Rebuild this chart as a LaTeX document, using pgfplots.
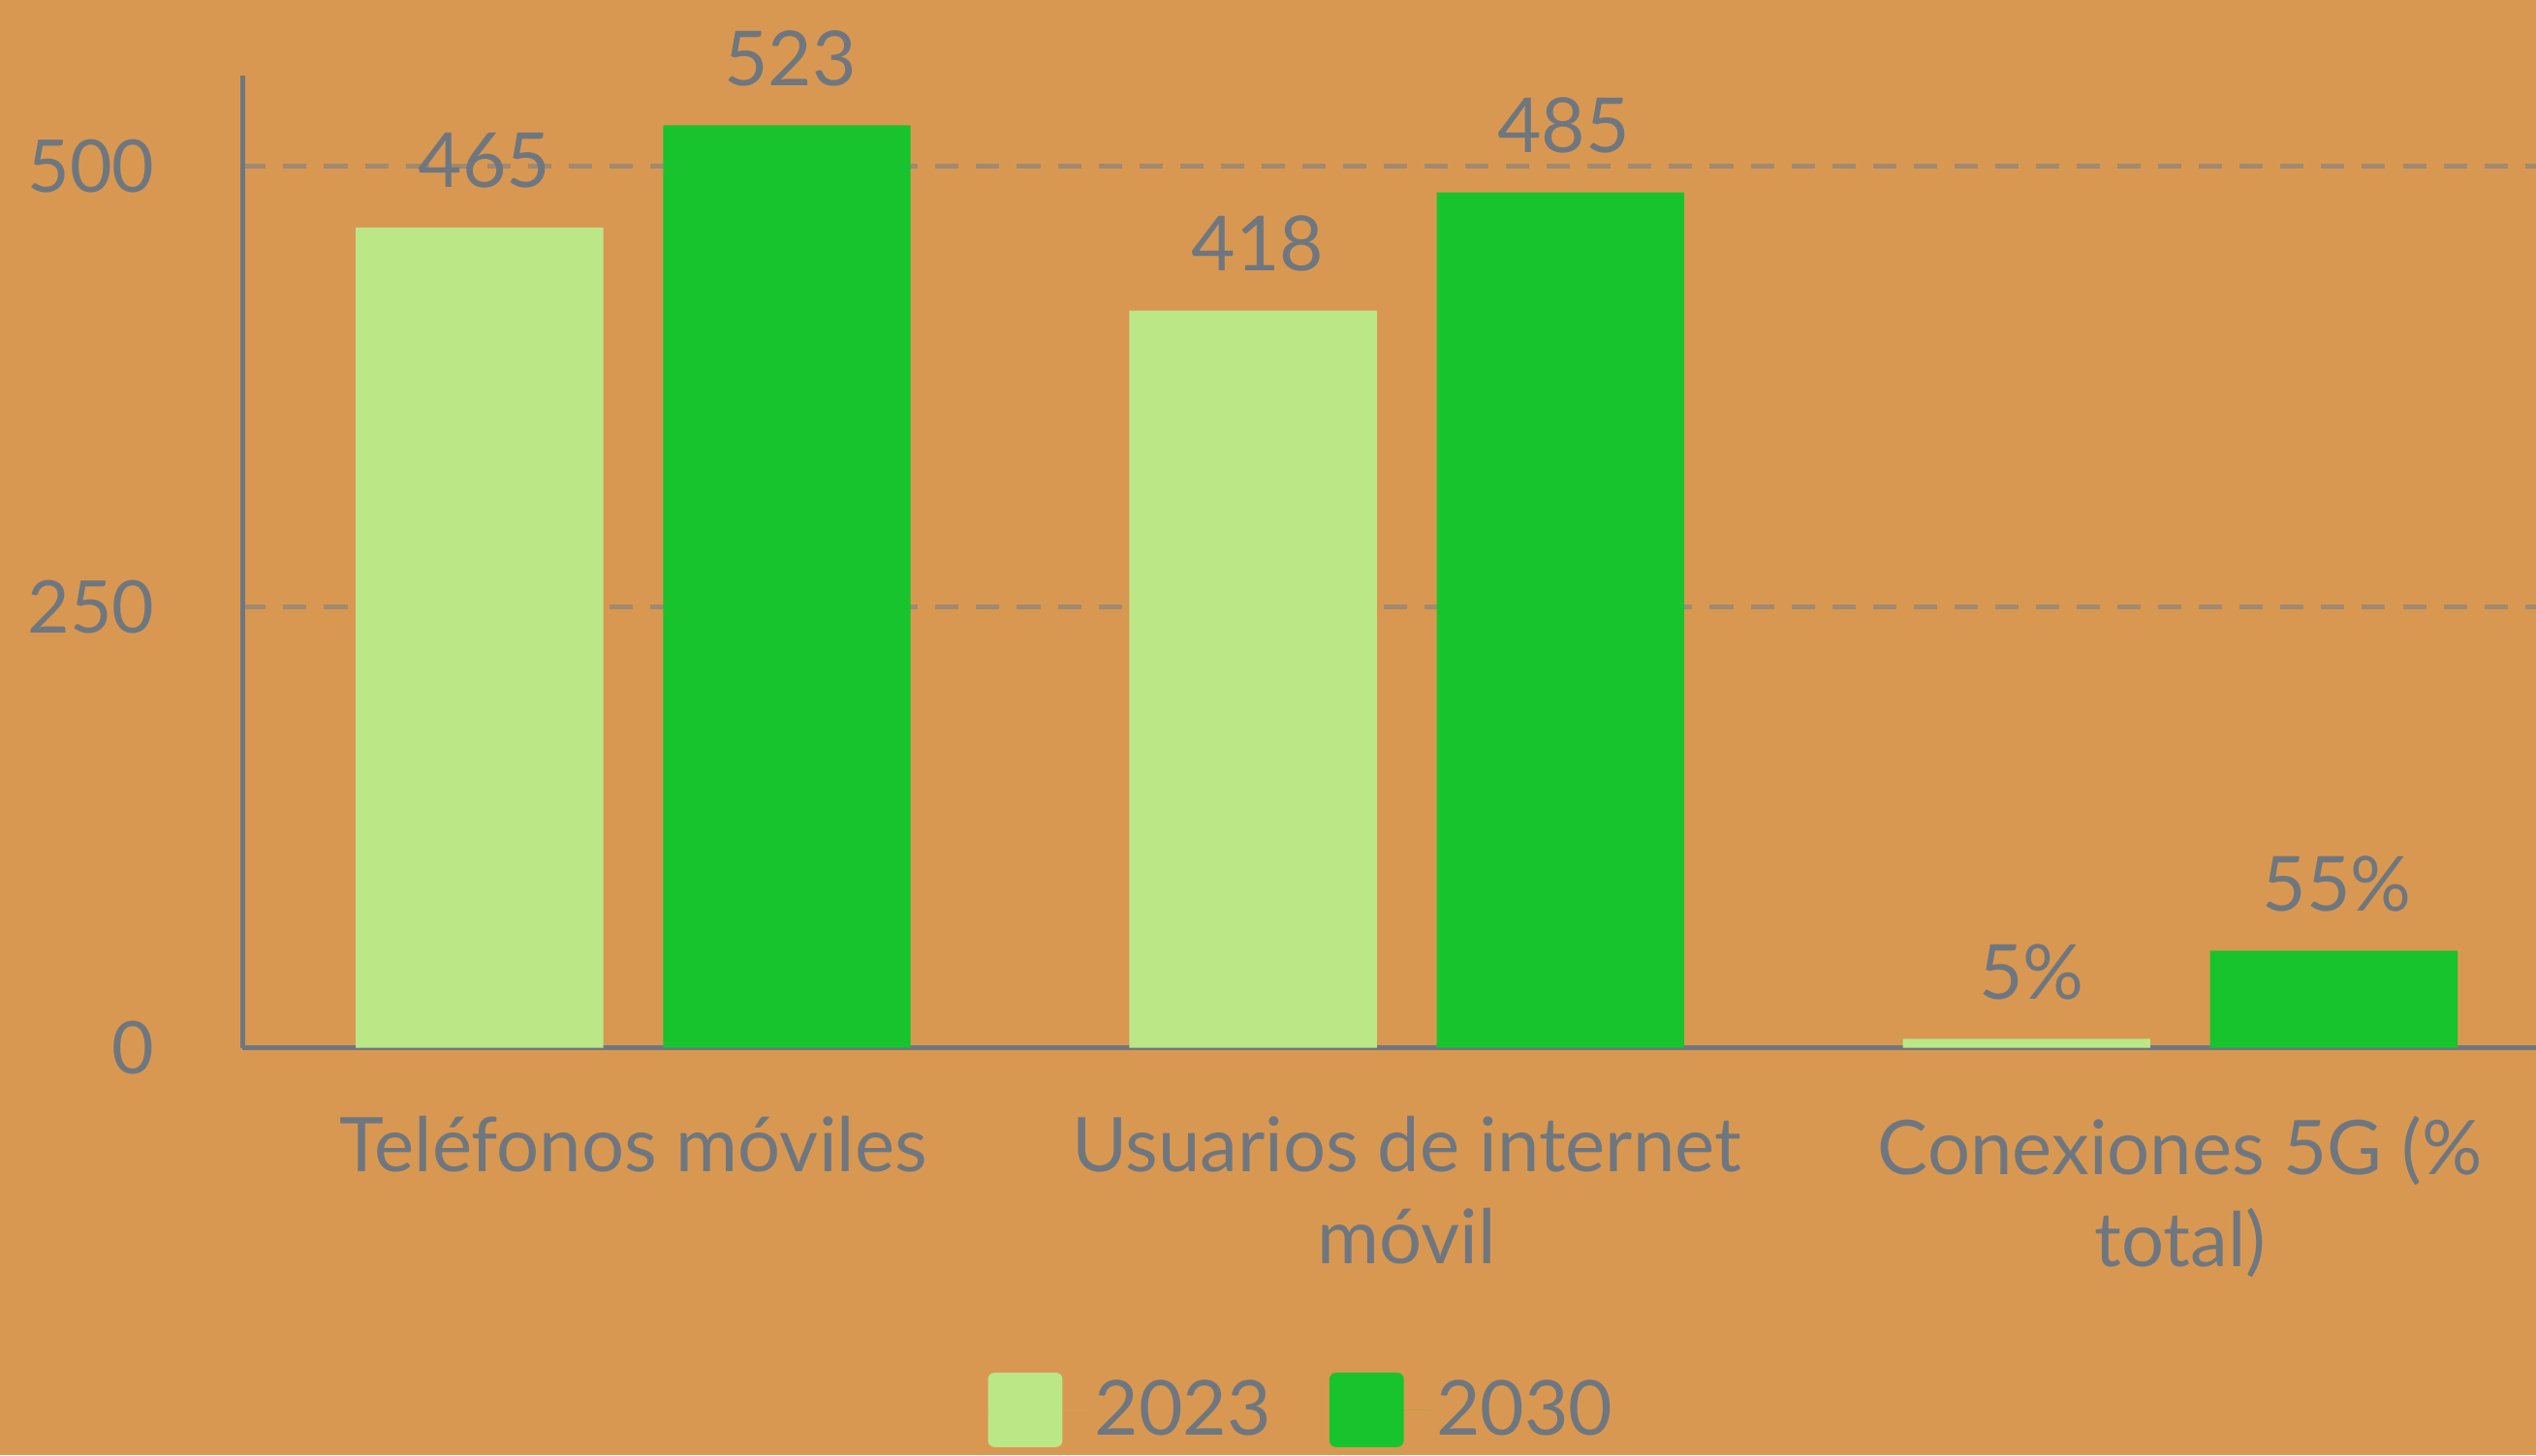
\documentclass[border=0pt]{standalone}
\usepackage{fontspec}
\setmainfont{Lato}
\usepackage{pgfplots}
\pgfplotsset{compat=1.18}
\definecolor{bg}{RGB}{217,152,81}
\definecolor{lg}{RGB}{187,231,135}
\definecolor{dg}{RGB}{23,196,46}
\definecolor{tx}{RGB}{110,119,128}
\definecolor{gr}{RGB}{160,138,113}
\begin{document}
\begin{tikzpicture}
\useasboundingbox (0,0) rectangle (784pt,450pt);
\fill[bg] (0,0) rectangle (784pt,450pt);
\begin{axis}[
  at={(75pt,126pt)}, anchor=south west,
  scale only axis, width=709pt, height=300.5pt,
  xmin=-0.505, xmax=2.46, ymin=0, ymax=551,
  clip=false,
  axis lines=left,
  axis line style={-, tx, line width=1.5pt},
  major tick length=0,
  ytick={0,250,500},
  yticklabels={0,250,500},
  /pgf/number format/assume math mode=true,
  yticklabel style={font=\fontsize{22.5}{26}\selectfont, text=tx, inner sep=0pt, xshift=-27pt},
  xtick={0,1,2},
  xticklabels={Teléfonos móviles, Usuarios de internet\\móvil, Conexiones 5G (\%\\total)},
  xticklabel style={align=center, font=\fontsize{23.3}{28.5}\selectfont, text=tx, inner sep=0pt, yshift=-21pt},
  ymajorgrids,
  grid style={gr, dash pattern=on 7.2pt off 5.4pt, line width=1.4pt},
  legend style={at={(0.4626,-0.3727)}, anchor=center, draw=none, fill=none,
    legend columns=2, font=\fontsize{23.5}{28}\selectfont, text=tx,
    /tikz/every even column/.append style={column sep=16pt},
    legend cell align=left},
]
\addplot[ybar, bar width=76.5pt, bar shift=-47.5pt, fill=lg, draw=none,
  legend image code/.code={\path (0pt,0pt) -- (31pt,0pt);\fill[lg, rounded corners=2pt] (0pt,-11.5pt) rectangle (23pt,11.5pt);},
  point meta=explicit symbolic, nodes near coords,
  nodes near coords style={font=\fontsize{23.5}{28}\selectfont, text=tx, anchor=south, inner sep=0pt, yshift=12pt, xshift=-46pt}]
  coordinates {(0,465) [465] (1,418) [418] (2,5) [5\%]};
\addlegendentry{2023}
\addplot[ybar, bar width=76.5pt, bar shift=47.5pt, fill=dg, draw=none,
  legend image code/.code={\path (0pt,0pt) -- (31pt,0pt);\fill[dg, rounded corners=2pt] (0pt,-11.5pt) rectangle (23pt,11.5pt);},
  point meta=explicit symbolic, nodes near coords,
  nodes near coords style={font=\fontsize{23.5}{28}\selectfont, text=tx, anchor=south, inner sep=0pt, yshift=12pt, xshift=48.5pt}]
  coordinates {(0,523) [523] (1,485) [485] (2,55) [55\%]};
\addlegendentry{2030}
\end{axis}
\end{tikzpicture}
\end{document}
